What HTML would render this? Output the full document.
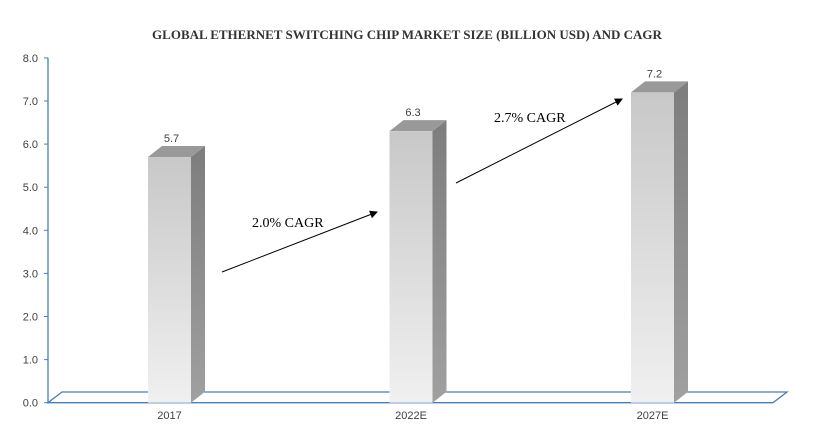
<!DOCTYPE html>
<html><head><meta charset="utf-8"><style>
body{margin:0;background:#fff;width:814px;height:436px;overflow:hidden}
svg{display:block}
.t{font-family:"Liberation Sans",sans-serif;font-size:11px;fill:#404040}
</style></head><body>
<svg id="c" width="814" height="436">
<defs>
<linearGradient id="fg" x1="0" y1="0" x2="0" y2="1"><stop offset="0" stop-color="#c8c8c8"/><stop offset="1" stop-color="#f0f0f0"/></linearGradient>
<linearGradient id="sg" x1="0" y1="0" x2="0" y2="1"><stop offset="0" stop-color="#7d7d7d"/><stop offset="1" stop-color="#a0a0a0"/></linearGradient>
<marker id="ah" markerWidth="8" markerHeight="8" refX="7" refY="4" orient="auto"><path d="M0,0 L8,4 L0,8 z" fill="#000"/></marker>
</defs>
<text x="407" y="39" text-anchor="middle" font-family="Liberation Serif,serif" font-weight="bold" font-size="13" fill="#333">GLOBAL ETHERNET SWITCHING CHIP MARKET SIZE (BILLION USD) AND CAGR</text>
<g id="axis"></g>
<g id="bars"></g>
<g>
<line x1="222" y1="272" x2="377" y2="212" stroke="#000" stroke-width="1" marker-end="url(#ah)"/>
<text x="252" y="227" font-family="Liberation Serif,serif" font-size="14" fill="#000">2.0% CAGR</text>
<line x1="456" y1="183" x2="622" y2="99" stroke="#000" stroke-width="1" marker-end="url(#ah)"/>
<text x="494" y="122" font-family="Liberation Serif,serif" font-size="14" fill="#000">2.7% CAGR</text>
</g>
</svg>
<script>
const categories=["2017","2022E","2027E"];
const values=[5.7,6.3,7.2];
const valueLabels=["5.7","6.3","7.2"];
const ticks=[0,1,2,3,4,5,6,7,8];
const tickLabels=["0.0","1.0","2.0","3.0","4.0","5.0","6.0","7.0","8.0"];
const NS="http://www.w3.org/2000/svg";
const y0=402.7,unit=43.1;
const y=v=>y0-v*unit;
const x=i=>169.5+i*241.5;
function mk(p,tag,a){const e=document.createElementNS(NS,tag);for(const k in a)e.setAttribute(k,a[k]);p.appendChild(e);return e;}
const ax=document.getElementById('axis');
let fl=mk(ax,'path',{d:`M48,${y0} L62,392 L787,392 L773,${y0} Z`,fill:'none',stroke:'#4a7ebb','stroke-width':1.3});


let yl=mk(ax,'line',{x1:48,y1:y(8),x2:48,y2:y0,stroke:'#4a7ebb','stroke-width':1.3});


ticks.forEach((t,i)=>{
 let l=mk(ax,'line',{x1:44,y1:y(t),x2:48,y2:y(t),stroke:'#4a7ebb'});
 
 
 let tx=mk(ax,'text',{x:38,y:y(t)+4,'text-anchor':'end',class:'t'});
 tx.textContent=tickLabels[i];
 
 
});
const bg=document.getElementById('bars');
values.forEach((v,i)=>{
 const cx=x(i),l=cx-21.5,r=cx+21.5,top=y(v),dx=14,dy=11;
 const g=mk(bg,'g',{});
 
 
 mk(g,'path',{d:`M${r},${top} L${r+dx},${top-dy} L${r+dx},${y0-dy} L${r},${y0} Z`,fill:'url(#sg)'});
 mk(g,'path',{d:`M${l},${top} L${l+dx},${top-dy} L${r+dx},${top-dy} L${r},${top} Z`,fill:'#999'});
 mk(g,'rect',{x:l,y:top,width:r-l,height:y0-top,fill:'url(#fg)'});
 let vl=mk(bg,'text',{x:cx+2,y:top-15,'text-anchor':'middle',class:'t'});
 vl.textContent=valueLabels[i];
 
 
 let cl=mk(bg,'text',{x:cx,y:419,'text-anchor':'middle',class:'t'});
 cl.textContent=categories[i];
 
 
});
</script>
</body></html>
